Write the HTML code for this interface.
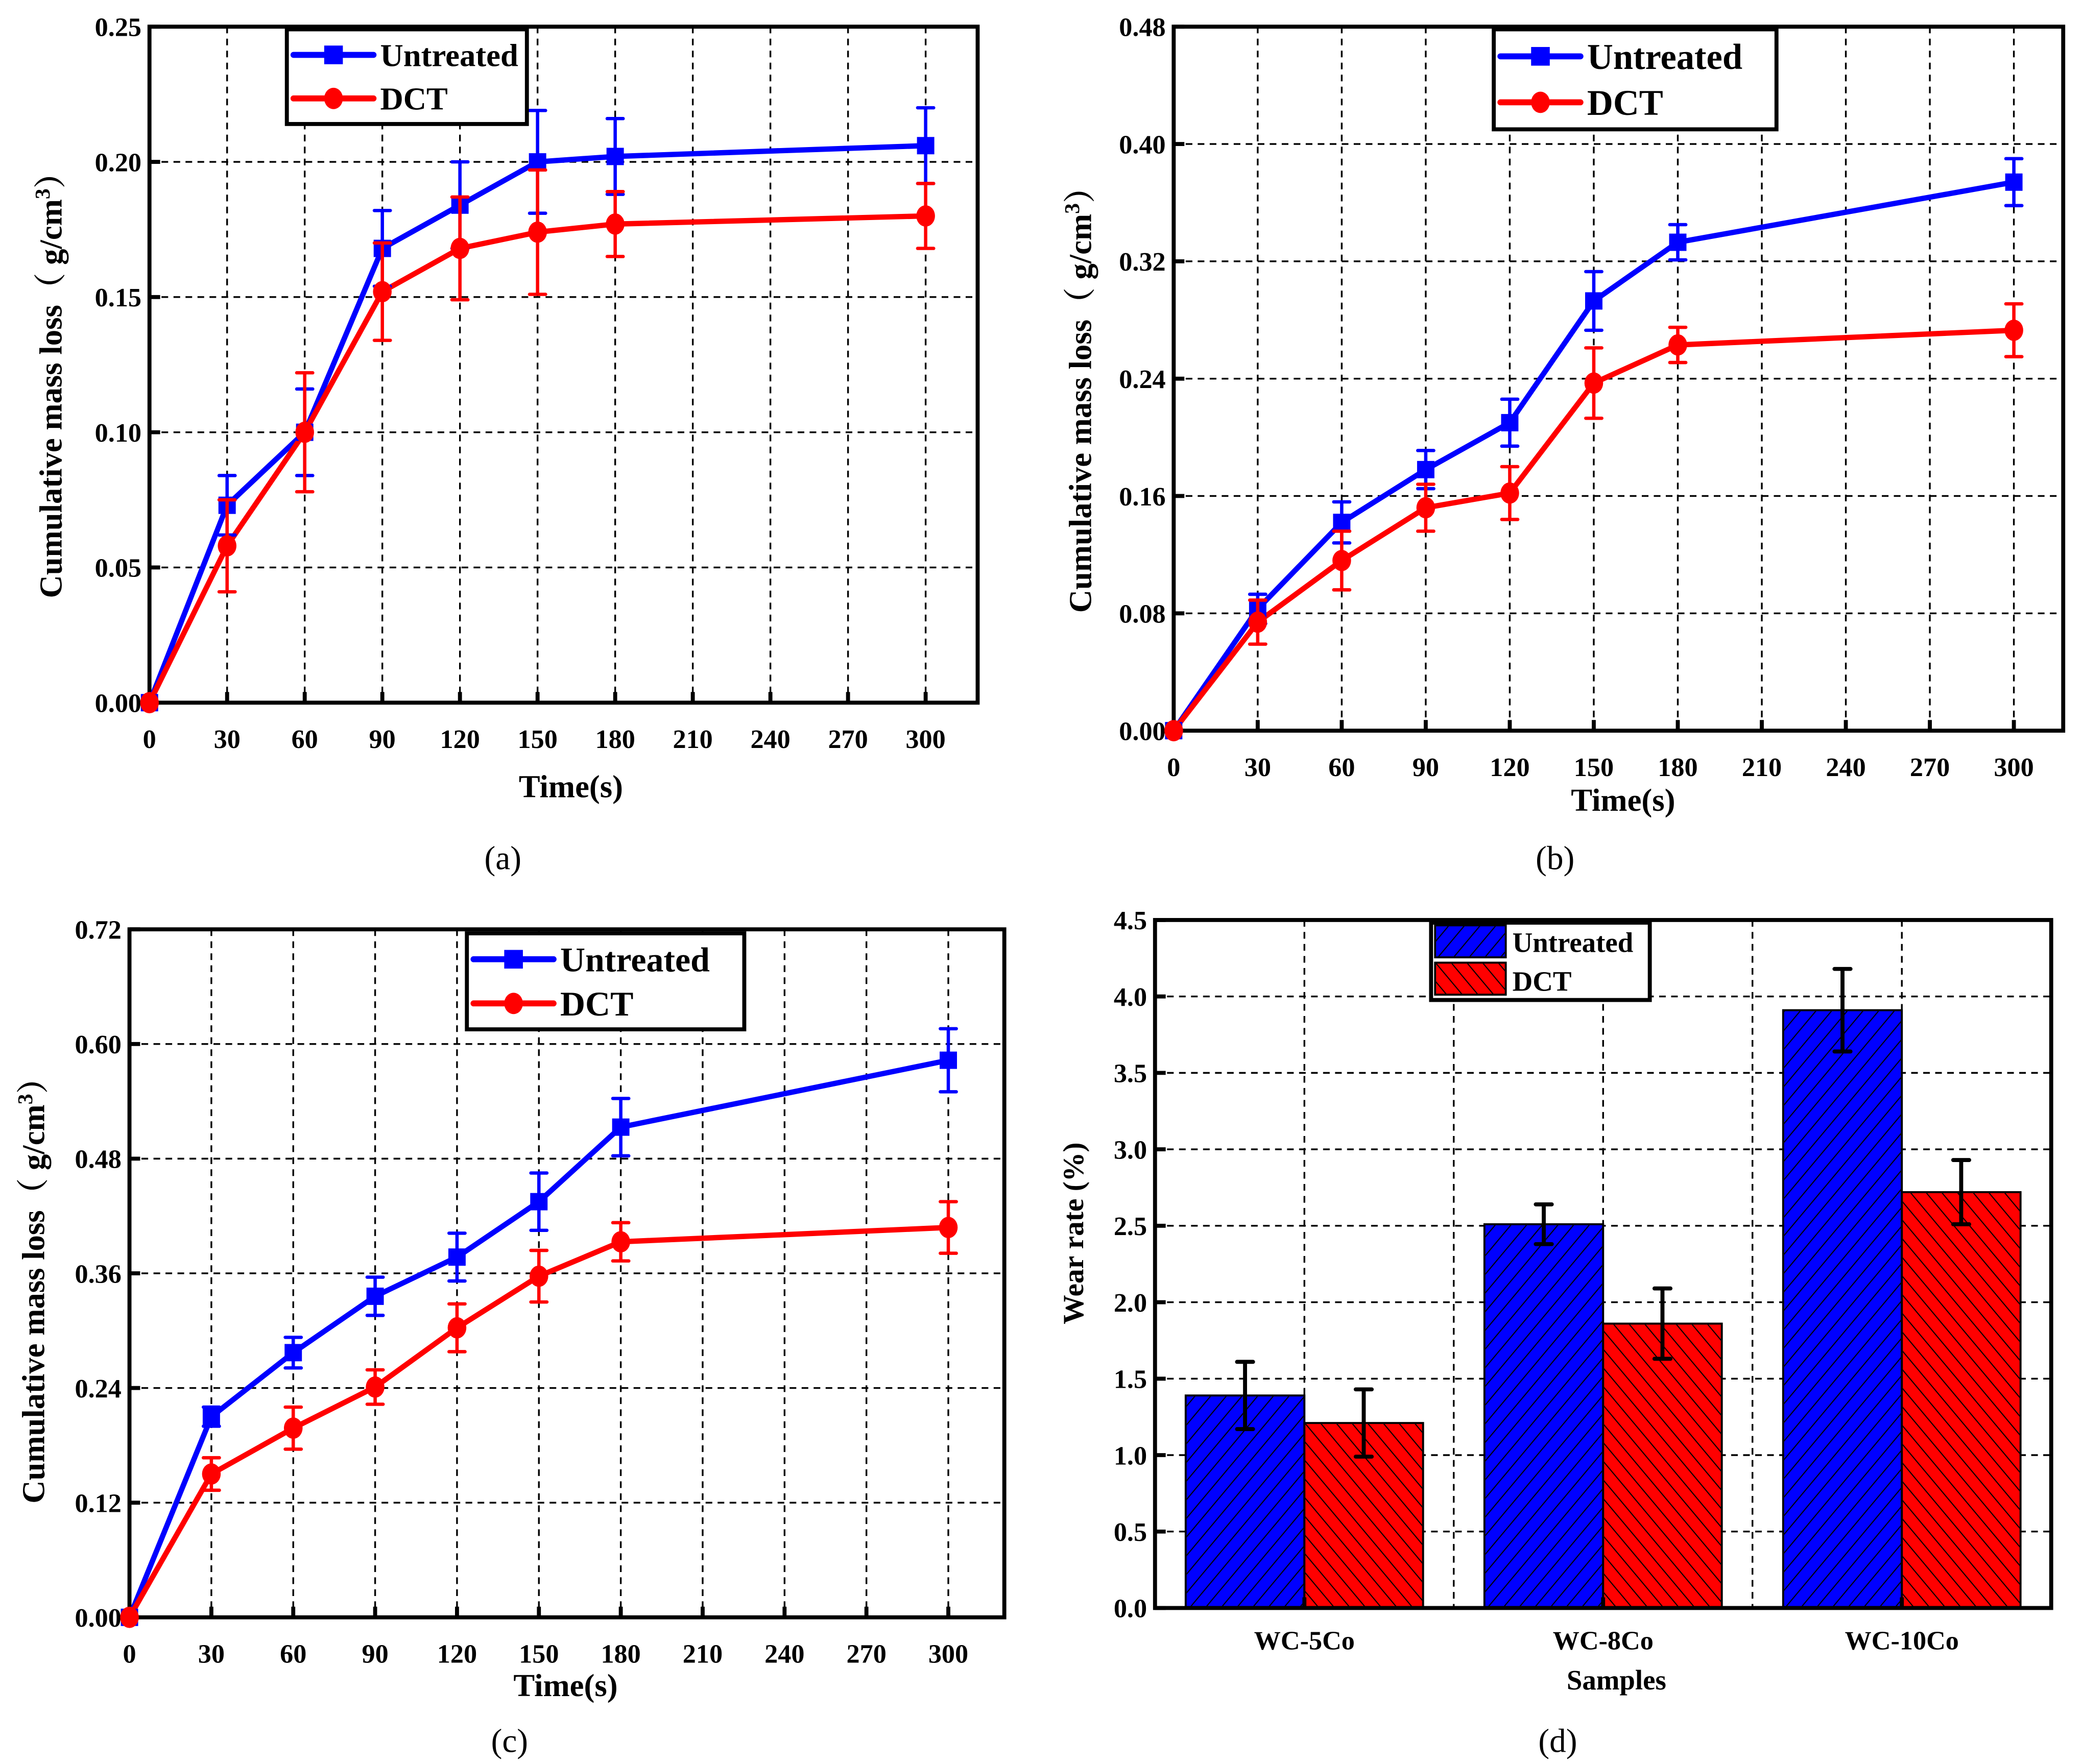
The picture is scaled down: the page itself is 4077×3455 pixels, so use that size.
<!DOCTYPE html>
<html><head><meta charset="utf-8">
<style>
html,body{margin:0;padding:0;background:#fff;}
svg{display:block;}
text{font-family:"Liberation Serif","Noto Serif CJK SC",serif;}
</style></head>
<body>
<svg id="fig" width="4077" height="3455" viewBox="0 0 1561 1323" xmlns="http://www.w3.org/2000/svg">
<defs>
<pattern id="hatchBlue" patternUnits="userSpaceOnUse" width="9" height="9" patternTransform="rotate(40)">
<rect width="9" height="9" fill="#0000ff"/><line x1="0" y1="0" x2="0" y2="9" stroke="#000" stroke-width="1.6"/>
</pattern>
<pattern id="hatchRed" patternUnits="userSpaceOnUse" width="9" height="9" patternTransform="rotate(-40)">
<rect width="9" height="9" fill="#ff0000"/><line x1="0" y1="0" x2="0" y2="9" stroke="#000" stroke-width="1.6"/>
</pattern>
</defs>
<g id="root"></g>
</svg>
<script>
// ---- data ----
const timeX = [0, 30, 60, 90, 120, 150, 180, 300];
const xTicks = [0, 30, 60, 90, 120, 150, 180, 210, 240, 270, 300];

const aUntreated = [0, 0.073, 0.100, 0.168, 0.184, 0.200, 0.202, 0.206];
const aUntreatedErr = [0, 0.011, 0.016, 0.014, 0.016, 0.019, 0.014, 0.014];
const aDCT = [0, 0.058, 0.100, 0.152, 0.168, 0.174, 0.177, 0.180];
const aDCTErr = [0, 0.017, 0.022, 0.018, 0.019, 0.023, 0.012, 0.012];
const aYTicks = ["0.00", "0.05", "0.10", "0.15", "0.20", "0.25"];

const bUntreated = [0, 0.083, 0.142, 0.178, 0.210, 0.293, 0.333, 0.374];
const bUntreatedErr = [0, 0.010, 0.014, 0.013, 0.016, 0.020, 0.012, 0.016];
const bDCT = [0, 0.074, 0.116, 0.152, 0.162, 0.237, 0.263, 0.273];
const bDCTErr = [0, 0.015, 0.020, 0.016, 0.018, 0.024, 0.012, 0.018];
const bYTicks = ["0.00", "0.08", "0.16", "0.24", "0.32", "0.40", "0.48"];

const cUntreated = [0, 0.210, 0.277, 0.336, 0.377, 0.435, 0.513, 0.583];
const cUntreatedErr = [0, 0.010, 0.016, 0.020, 0.025, 0.030, 0.030, 0.033];
const cDCT = [0, 0.150, 0.198, 0.241, 0.303, 0.357, 0.393, 0.408];
const cDCTErr = [0, 0.017, 0.022, 0.018, 0.025, 0.027, 0.020, 0.027];
const cYTicks = ["0.00", "0.12", "0.24", "0.36", "0.48", "0.60", "0.72"];

const dCategories = ["WC-5Co", "WC-8Co", "WC-10Co"];
const dUntreated = [1.39, 2.51, 3.91];
const dUntreatedErr = [0.22, 0.13, 0.27];
const dDCT = [1.21, 1.86, 2.72];
const dDCTErr = [0.22, 0.23, 0.21];
const dYTicks = ["0.0", "0.5", "1.0", "1.5", "2.0", "2.5", "3.0", "3.5", "4.0", "4.5"];

const NS = "http://www.w3.org/2000/svg";
const root = document.getElementById("root");
function mk(tag, attrs, parent, txt) {
  const e = document.createElementNS(NS, tag);
  for (const k in attrs) e.setAttribute(k, attrs[k]);
  if (txt !== undefined) e.textContent = txt;
  (parent || root).appendChild(e);
  return e;
}

function linePanel(p) {
  const g = mk("g", {});
  
  
  const xs = v => p.x0 + (v - 0) * p.xpx;
  const ymax = parseFloat(p.yTicks[p.yTicks.length - 1]);
  const ys = v => p.yb - v / ymax * (p.yb - p.yt);
  // grid
  p.yTicks.forEach(t => {
    const y = ys(parseFloat(t));
    const l = mk("line", {x1: p.xl, x2: p.xr, y1: y, y2: y, stroke: "#000", "stroke-width": 1.3, "stroke-dasharray": "5,4"}, g);
    
    
    mk("line", {x1: p.xl, x2: p.xl + 8, y1: y, y2: y, stroke: "#000", "stroke-width": 3}, g);
    const tx = mk("text", {x: p.xl - 6, y: y + 7, "text-anchor": "end", "font-size": 20, "font-weight": "bold"}, g, t);
    
    
  });
  xTicks.forEach(t => {
    const x = xs(t);
    const l = mk("line", {x1: x, x2: x, y1: p.yt, y2: p.yb, stroke: "#000", "stroke-width": 1.3, "stroke-dasharray": "5,4"}, g);
    
    
    mk("line", {x1: x, x2: x, y1: p.yb, y2: p.yb - 8, stroke: "#000", "stroke-width": 3}, g);
    const tx = mk("text", {x: x, y: p.yb + 34, "text-anchor": "middle", "font-size": 20, "font-weight": "bold"}, g, String(t));
    
    
  });
  const fr = mk("rect", {x: p.xl, y: p.yt, width: p.xr - p.xl, height: p.yb - p.yt, fill: "none", stroke: "#000", "stroke-width": 3}, g);
  
  
  // series
  const series = [
    {v: p.u, e: p.ue, c: "#0000ff", m: "square", n: "untreated"},
    {v: p.d, e: p.de, c: "#ff0000", m: "circle", n: "dct"}
  ];
  series.forEach(s => {
    const pts = timeX.map((t, i) => xs(t) + "," + ys(s.v[i])).join(" ");
    const pl = mk("polyline", {points: pts, fill: "none", stroke: s.c, "stroke-width": 4, "stroke-linejoin": "round"}, g);
    
    
  });
  series.forEach(s => {
    timeX.forEach((t, i) => {
      const x = xs(t), y = ys(s.v[i]);
      if (s.e[i] > 0) {
        const y1 = ys(s.v[i] + s.e[i]), y2 = ys(s.v[i] - s.e[i]);
        const eb = mk("path", {d: `M${x},${y1}V${y2}M${x-6},${y1}H${x+6}M${x-6},${y2}H${x+6}`, stroke: s.c, "stroke-width": 2.5, "stroke-linecap": "round", fill: "none"}, g);
        
        
      }
      let m;
      if (s.m === "square") m = mk("rect", {x: x - 6.5, y: y - 6.5, width: 13, height: 13, fill: s.c}, g);
      else m = mk("ellipse", {cx: x, cy: y, rx: 7, ry: 8, fill: s.c}, g);
      
      
    });
  });
  // legend
  const L = p.leg;
  const lg = mk("g", {}, g);
  
  
  mk("rect", {x: L.x, y: L.y, width: L.w, height: L.h, fill: "#fff", stroke: "#000", "stroke-width": 3}, lg);
  [["Untreated", "#0000ff", "square"], ["DCT", "#ff0000", "circle"]].forEach((it, k) => {
    const yy = L.y + L.h * (k === 0 ? 0.27 : 0.73);
    const eg = mk("g", {}, lg);
    
    
    mk("line", {x1: L.x + 5, x2: L.x + 65, y1: yy, y2: yy, stroke: it[1], "stroke-width": 4.5, "stroke-linecap": "round"}, eg);
    if (it[2] === "square") mk("rect", {x: L.x + 28, y: yy - 7, width: 14, height: 14, fill: it[1]}, eg);
    else mk("ellipse", {cx: L.x + 35, cy: yy, rx: 7, ry: 8, fill: it[1]}, eg);
    mk("text", {x: L.x + 70, y: yy + L.fs * 0.35, "font-size": L.fs, "font-weight": "bold"}, eg, it[0]);
  });
  // titles
  const yt = mk("text", {x: 0, y: 0, transform: `translate(${p.ylab[0]},${p.ylab[1]}) rotate(-90)`, "text-anchor": "middle", "font-size": 24, "font-weight": "bold"}, g);
  
  
  yt.innerHTML = 'Cumulative mass loss（ g/cm<tspan dy="-9" font-size="16">3</tspan><tspan dy="9">）</tspan>';
  const xt = mk("text", {x: p.xlab[0], y: p.xlab[1], "text-anchor": "middle", "font-size": 24, "font-weight": "bold"}, g, "Time(s)");
  
  
  const cp = mk("text", {x: p.cap[0], y: p.cap[1], "text-anchor": "middle", "font-size": 25}, g, p.capT);
  
  
}

linePanel({name: "panel-a", xl: 112, xr: 733, yt: 20, yb: 527, x0: 112, xpx: 58.2 / 30,
  yTicks: aYTicks, u: aUntreated, ue: aUntreatedErr, d: aDCT, de: aDCTErr,
  leg: {x: 215, y: 22, w: 180, h: 71, fs: 24}, ylab: [46, 283], xlab: [428, 598], cap: [377, 652], capT: "(a)"});
linePanel({name: "panel-b", xl: 880, xr: 1547, yt: 20, yb: 548, x0: 880, xpx: 63 / 30,
  yTicks: bYTicks, u: bUntreated, ue: bUntreatedErr, d: bDCT, de: bDCTErr,
  leg: {x: 1120, y: 22, w: 212, h: 75, fs: 27}, ylab: [818, 294], xlab: [1217, 608], cap: [1166, 652], capT: "(b)"});
linePanel({name: "panel-c", xl: 97, xr: 753, yt: 697, yb: 1213, x0: 97, xpx: 61.4 / 30,
  yTicks: cYTicks, u: cUntreated, ue: cUntreatedErr, d: cDCT, de: cDCTErr,
  leg: {x: 350, y: 700, w: 208, h: 72, fs: 26}, ylab: [33, 962], xlab: [424, 1272], cap: [382, 1314], capT: "(c)"});

// ---- panel d ----
(function () {
  const xl = 866, xr = 1538, yt = 690, yb = 1206;
  const ymax = parseFloat(dYTicks[dYTicks.length - 1]);
  const ys = v => yb - v / ymax * (yb - yt);
  const catW = (xr - xl) / dCategories.length;
  const cx = i => xl + catW * (i + 0.5);
  const barW = 89;
  const g = mk("g", {});
  
  
  dYTicks.forEach(t => {
    const y = ys(parseFloat(t));
    const l = mk("line", {x1: xl, x2: xr, y1: y, y2: y, stroke: "#000", "stroke-width": 1.3, "stroke-dasharray": "5,4"}, g);
    
    
    mk("line", {x1: xl, x2: xl + 8, y1: y, y2: y, stroke: "#000", "stroke-width": 3}, g);
    const tx = mk("text", {x: xl - 6, y: y + 7, "text-anchor": "end", "font-size": 20, "font-weight": "bold"}, g, t);
    
    
  });
  for (let k = 1; k < dCategories.length * 2; k++) {
    const x = xl + catW / 2 * k;
    const l = mk("line", {x1: x, x2: x, y1: yt, y2: yb, stroke: "#000", "stroke-width": 1.3, "stroke-dasharray": "5,4"}, g);
    
    
  }
  dCategories.forEach((c, i) => {
    const x = cx(i);
    const bu = mk("rect", {x: x - barW, y: ys(dUntreated[i]), width: barW, height: yb - ys(dUntreated[i]), fill: "url(#hatchBlue)", stroke: "#000", "stroke-width": 1.5}, g);
    
    
    const bd = mk("rect", {x: x, y: ys(dDCT[i]), width: barW, height: yb - ys(dDCT[i]), fill: "url(#hatchRed)", stroke: "#000", "stroke-width": 1.5}, g);
    
    
    [[x - barW / 2, dUntreated[i], dUntreatedErr[i]], [x + barW / 2, dDCT[i], dDCTErr[i]]].forEach(q => {
      const y1 = ys(q[1] + q[2]), y2 = ys(q[1] - q[2]);
      const eb = mk("path", {d: `M${q[0]},${y1}V${y2}M${q[0]-6},${y1}H${q[0]+6}M${q[0]-6},${y2}H${q[0]+6}`, stroke: "#000", "stroke-width": 3, "stroke-linecap": "round", fill: "none"}, g);
      
      
    });
    mk("line", {x1: x, x2: x, y1: yb, y2: yb - 8, stroke: "#000", "stroke-width": 3}, g);
    const tx = mk("text", {x: x, y: yb + 31, "text-anchor": "middle", "font-size": 20, "font-weight": "bold"}, g, c);
    
    
  });
  const fr = mk("rect", {x: xl, y: yt, width: xr - xl, height: yb - yt, fill: "none", stroke: "#000", "stroke-width": 3}, g);
  
  
  const lg = mk("g", {}, g);
  
  
  mk("rect", {x: 1073, y: 692, width: 164, height: 58, fill: "#fff", stroke: "#000", "stroke-width": 3}, lg);
  const e1 = mk("g", {}, lg);
  
  
  mk("rect", {x: 1076, y: 694, width: 53, height: 24, fill: "url(#hatchBlue)", stroke: "#000", "stroke-width": 1.5}, e1);
  mk("text", {x: 1134, y: 714, "font-size": 21, "font-weight": "bold"}, e1, "Untreated");
  const e2 = mk("g", {}, lg);
  
  
  mk("rect", {x: 1076, y: 722, width: 53, height: 24, fill: "url(#hatchRed)", stroke: "#000", "stroke-width": 1.5}, e2);
  mk("text", {x: 1134, y: 743, "font-size": 21, "font-weight": "bold"}, e2, "DCT");
  const yt2 = mk("text", {x: 0, y: 0, transform: "translate(812,925) rotate(-90)", "text-anchor": "middle", "font-size": 22, "font-weight": "bold"}, g, "Wear rate (%)");
  
  
  const xt = mk("text", {x: 1212, y: 1267, "text-anchor": "middle", "font-size": 21, "font-weight": "bold"}, g, "Samples");
  
  
  const cp = mk("text", {x: 1168, y: 1314, "text-anchor": "middle", "font-size": 25}, g, "(d)");
  
  
})();
</script>
</body></html>
